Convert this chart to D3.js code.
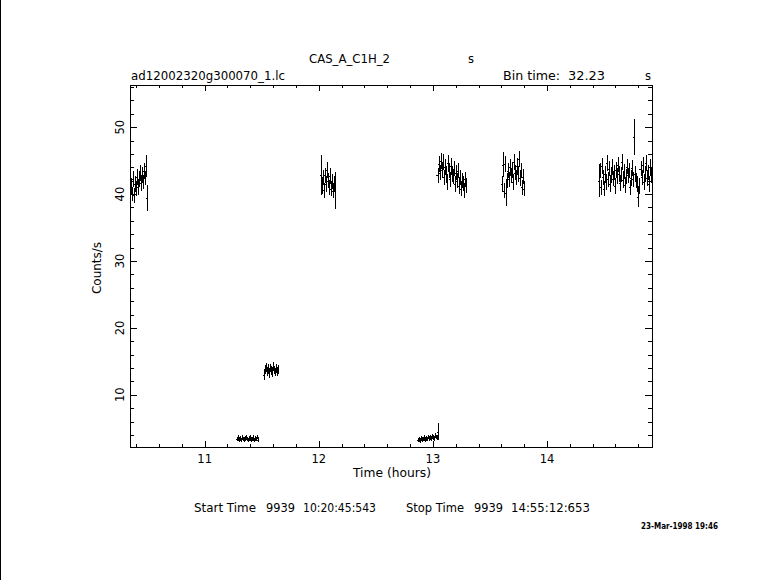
<!DOCTYPE html>
<html><head><meta charset="utf-8">
<script src="https://cdn.jsdelivr.net/npm/d3@7"></script>
<style>
html,body{margin:0;padding:0;background:#fff;}
svg{display:block;}
text{font-family:"DejaVu Sans",sans-serif;fill:#000;}
</style></head>
<body>
<script>
// ---- data ----
const binTimeSec = 32.23;
const xDomain = [10.346, 14.920];
const yDomain = [2.2, 56.3];
const xMajorTicks = [11, 12, 13, 14];
const yMajorTicks = [10, 20, 30, 40, 50];
const segStart = [10.346, 11.275, 11.512, 12.0156, 12.8614, 13.036, 13.5975, 14.4477];
const seg1 = [41.2, 40.0, 42.3, 39.8, 41.5, 40.8, 42.6, 41.0, 42.2, 43.1, 41.6, 42.9, 41.8, 43.4, 42.4, 44.2, 39.4];
const err1 = [1.2, 1.1, 1.2, 1.1, 1.2, 1.1, 1.2, 1.1, 1.2, 1.2, 1.1, 1.2, 1.1, 1.2, 1.1, 1.6, 2.0];
const seg2 = [3.4, 3.6, 3.3, 3.5, 3.2, 3.6, 3.4, 3.3, 3.5, 3.7, 3.4, 3.2, 3.5, 3.6, 3.3, 3.4, 3.6, 3.2, 3.5, 3.4, 3.7, 3.3];
const err2 = [0.33, 0.34, 0.32, 0.33, 0.32, 0.34, 0.33, 0.32, 0.33, 0.34, 0.33, 0.32, 0.33, 0.34, 0.32, 0.33, 0.34, 0.32, 0.33, 0.33, 0.34, 0.32];
const seg3 = [13.0, 13.8, 14.1, 13.5, 13.9, 13.2, 14.0, 13.6, 13.3, 14.2, 13.7, 13.4, 13.9, 13.5, 13.8];
const err3 = [0.8, 0.65, 0.66, 0.65, 0.66, 0.64, 0.66, 0.65, 0.64, 0.66, 0.65, 0.64, 0.66, 0.65, 0.65];
const seg4 = [42.9, 41.2, 42.5, 40.6, 42.8, 41.5, 43.6, 42.0, 41.0, 42.7, 40.8, 41.9, 40.5, 41.6, 40.5];
const err4 = [3.0, 1.13, 1.15, 1.12, 1.15, 1.13, 1.16, 1.14, 1.13, 1.15, 1.12, 1.14, 1.12, 1.14, 2.8];
const seg5 = [3.2, 3.4, 3.1, 3.5, 3.3, 3.4, 3.6, 3.3, 3.5, 3.4, 3.7, 3.5, 3.6, 3.4, 3.8, 3.6, 3.5, 3.9, 3.7, 3.6, 4.5];
const err5 = [0.32, 0.33, 0.31, 0.33, 0.32, 0.33, 0.33, 0.32, 0.33, 0.33, 0.34, 0.33, 0.33, 0.33, 0.34, 0.33, 0.33, 0.35, 0.34, 0.33, 1.3];
const seg6 = [42.8, 44.5, 43.2, 45.0, 43.6, 44.8, 42.5, 44.0, 43.0, 41.8, 44.6, 43.5, 42.2, 44.2, 43.0, 42.6, 43.8, 41.5, 43.2, 42.0, 43.5, 41.2, 42.5, 40.8, 42.0, 41.6, 40.6, 42.2, 41.3];
const err6 = [1.15, 1.18, 1.16, 1.18, 1.16, 1.18, 1.15, 1.17, 1.16, 1.14, 1.18, 1.16, 1.15, 1.17, 1.16, 1.15, 1.17, 1.13, 1.16, 1.14, 1.16, 1.13, 1.15, 1.12, 1.14, 1.14, 1.12, 1.14, 1.13];
const seg7 = [41.5, 44.4, 40.5, 44.5, 40.2, 42.0, 43.5, 42.2, 44.0, 42.8, 43.6, 41.8, 44.8, 43.2, 42.5, 44.2, 43.0, 45.2, 42.4, 43.5, 41.0, 42.6, 40.8];
const err7 = [1.13, 1.9, 1.12, 1.18, 2.0, 1.14, 1.16, 1.15, 1.17, 1.15, 1.16, 1.14, 1.18, 1.16, 1.15, 1.17, 1.16, 1.18, 1.15, 1.16, 1.13, 1.15, 1.12];
const seg8 = [42.0, 43.5, 41.0, 44.2, 42.5, 40.8, 43.0, 41.8, 44.6, 42.2, 43.8, 41.5, 42.8, 44.0, 42.3, 43.2, 41.2, 43.6, 42.7, 44.4, 43.0, 41.6, 42.9, 44.8, 42.1, 43.4, 41.3, 42.6, 44.1, 42.8, 43.5, 41.0, 42.4, 43.9, 42.2, 48.5, 43.0, 42.0, 41.5, 39.6, 41.2, 43.8, 42.5, 44.3, 41.8, 43.0, 44.6, 42.4, 43.2, 41.5, 44.0, 42.8, 43.5];
const err8 = [2.5, 1.16, 1.13, 1.17, 1.15, 1.12, 1.16, 1.14, 1.18, 1.14, 1.17, 1.13, 1.15, 1.17, 1.15, 1.16, 1.13, 1.16, 1.15, 1.17, 1.16, 1.14, 1.15, 1.18, 1.14, 1.16, 1.13, 1.15, 1.17, 1.15, 1.16, 1.13, 1.15, 1.17, 1.14, 2.7, 1.16, 1.14, 1.13, 1.6, 1.13, 1.17, 1.15, 1.17, 1.14, 1.16, 1.18, 1.15, 1.16, 1.13, 1.17, 1.15, 1.16];
const segVals = [seg1, seg2, seg3, seg4, seg5, seg6, seg7, seg8];
const segErrs = [err1, err2, err3, err4, err5, err6, err7, err8];

// ---- layout ----
const W = 781, H = 580;
const L = 130, R = 652, T = 85, B = 447;
const svg = d3.select("body").append("svg").attr("width", W).attr("height", H);
svg.append("rect").attr("width", W).attr("height", H).attr("fill", "#fff");
svg.append("line").attr("x1", 0.5).attr("x2", 0.5).attr("y1", 0).attr("y2", H)
  .attr("stroke", "#000").attr("stroke-width", 1);

const x = d3.scaleLinear().domain(xDomain).range([L, R]);
const y = d3.scaleLinear().domain(yDomain).range([B, T]);

const binH = binTimeSec / 3600;
const pts = [];
segVals.forEach((vals, s) => {
  vals.forEach((v, i) => {
    pts.push({t: segStart[s] + (i + 0.5) * binH, v: v, e: segErrs[s][i]});
  });
});

svg.append("clipPath").attr("id", "clip").append("rect")
  .attr("x", L).attr("y", T).attr("width", R - L).attr("height", B - T);

const g = svg.append("g").attr("clip-path", "url(#clip)")
  .attr("stroke", "#000").attr("stroke-width", 1).attr("shape-rendering", "crispEdges");
g.selectAll("line.eb").data(pts).join("line").attr("class", "eb")
  .attr("x1", d => Math.round(x(d.t)) + 0.5).attr("x2", d => Math.round(x(d.t)) + 0.5)
  .attr("y1", d => y(d.v - d.e)).attr("y2", d => y(d.v + d.e));
g.selectAll("line.bw").data(pts).join("line").attr("class", "bw")
  .attr("x1", d => x(d.t - binH / 2) - 0.5).attr("x2", d => x(d.t + binH / 2) + 0.5)
  .attr("y1", d => Math.round(y(d.v)) + 0.5).attr("y2", d => Math.round(y(d.v)) + 0.5);

// ---- axes (ticks inward on all sides) ----
const ax = svg.append("g").attr("stroke", "#000").attr("stroke-width", 1).attr("shape-rendering", "crispEdges");
ax.append("rect").attr("x", L + 0.5).attr("y", T + 0.5).attr("width", R - L).attr("height", B - T)
  .attr("fill", "none");
const xMinor = d3.range(Math.ceil(xDomain[0] * 5), Math.floor(xDomain[1] * 5) + 1).map(k => k / 5);
const yMinor = d3.range(Math.ceil(yDomain[0] / 2), Math.floor(yDomain[1] / 2) + 1).map(k => k * 2);
xMinor.forEach(v => {
  const major = Math.abs(v - Math.round(v)) < 1e-6;
  const len = major ? 6 : 3;
  const px = Math.round(x(v)) + 0.5;
  ax.append("line").attr("x1", px).attr("x2", px).attr("y1", B).attr("y2", B - len);
  ax.append("line").attr("x1", px).attr("x2", px).attr("y1", T).attr("y2", T + len);
});
yMinor.forEach(v => {
  const major = v % 10 === 0;
  const len = major ? 7 : 4;
  const py = Math.round(y(v)) + 0.5;
  ax.append("line").attr("x1", L).attr("x2", L + len).attr("y1", py).attr("y2", py);
  ax.append("line").attr("x1", R).attr("x2", R - len).attr("y1", py).attr("y2", py);
});

const fs = 11.5;
svg.selectAll("text.xt").data(xMajorTicks).join("text").attr("class", "xt")
  .attr("x", d => x(d)).attr("y", 463).attr("text-anchor", "middle")
  .attr("font-size", fs).text(d => d);
svg.selectAll("text.yt").data(yMajorTicks).join("text").attr("class", "yt")
  .attr("transform", d => `translate(123.5,${y(d)}) rotate(-90)`)
  .attr("text-anchor", "middle").attr("font-size", fs).text(d => d);

function txt(s, px, py, opts = {}) {
  const t = svg.append("text").attr("x", px).attr("y", py).attr("font-size", opts.fs || fs)
    .attr("text-anchor", opts.anchor || "start").text(s);
  if (opts.len) t.attr("textLength", opts.len).attr("lengthAdjust", "spacingAndGlyphs");
  return t;
}
txt("CAS_A_C1H_2", 309, 63, {len: 81});
txt("s", 468, 63);
txt("ad12002320g300070_1.lc", 131, 80, {len: 154});
txt("Bin time:", 503, 80, {len: 57});
txt("32.23", 568, 80, {len: 37});
txt("s", 645, 80);
txt("Time (hours)", 392, 477, {anchor: "middle", len: 78});
svg.append("text").attr("transform", "translate(100.5,268) rotate(-90)")
  .attr("text-anchor", "middle").attr("font-size", fs).attr("textLength", 52)
  .attr("lengthAdjust", "spacingAndGlyphs").text("Counts/s");
txt("Start Time", 194, 512, {len: 62});
txt("9939", 266, 512, {len: 29});
txt("10:20:45:543", 303, 512, {len: 73});
txt("Stop Time", 406, 512, {len: 58});
txt("9939", 474, 512, {len: 29});
txt("14:55:12:653", 511, 512, {len: 79});
txt("23-Mar-1998 19:46", 641, 529, {fs: 8, len: 77}).attr("font-weight", "bold");
</script>
</body></html>
